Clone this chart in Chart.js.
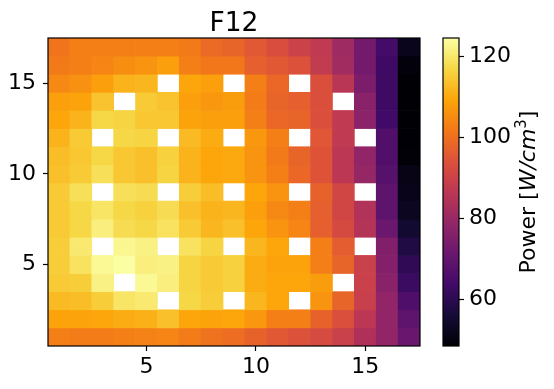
<!DOCTYPE html>
<html>
<head>
<meta charset="utf-8">
<script src="https://cdn.jsdelivr.net/npm/chart.js@4.4.1/dist/chart.umd.min.js"></script>
<style>
  html, body { margin:0; padding:0; background:#fff; }
  #wrap { position:relative; width:554px; height:389px; }
  #heat { position:absolute; left:0; top:0; }
  #cbar { position:absolute; left:430px; top:0; }
</style>
</head>
<body>
<div id="wrap">
  <canvas id="heat" width="468" height="389"></canvas>
  <canvas id="cbar" width="124" height="389"></canvas>
</div>
<script>
// grid positions (1..17 in both directions)
const cols = [1,2,3,4,5,6,7,8,9,10,11,12,13,14,15,16,17];
const rowsY = [1,2,3,4,5,6,7,8,9,10,11,12,13,14,15,16,17];

// power values [W/cm^3], one array per row, bottom row (y=1) first; null = no data (white)
const power = [
  [103,102.5,102.5,103,103.5,104,102.5,100.5,99.5,97.5,95.5,94,92.5,89.5,84,78.5,71],
  [109,109,109.5,110.5,111,113.5,109.5,109,109.5,107,103,103,97.5,93.5,86.5,78.5,69],
  [112.5,113,115.5,119.5,120.5,null,117,115.5,null,112,109.5,null,106.5,98,89,78.5,66],
  [115,115.5,122,null,123.5,121.5,116.5,115,116,110.5,109.5,109.5,108,null,89.5,77,62.5],
  [115.5,119,123.5,124.5,121.5,122,116.5,115,116,110.5,109,109,103,98,89.5,76,60.5],
  [115.5,120.5,null,123,122,null,119,116.5,null,112,109.5,null,103,96.5,null,75.5,58],
  [115,117,121.5,118,117,119,115,112,113.5,109.5,106.5,104,97,92,85,71.5,55],
  [115,117,119.5,117,116,118,113.5,111.5,112,108.5,104.5,103,97,91,84.5,69,52.5],
  [115,118.5,null,118.5,118,null,115.5,113,null,109.5,106.5,null,97.5,91,null,69,51.5],
  [113.5,115,118.5,114.5,113.5,116.5,111.5,109.5,110,106.5,103,98.5,94.5,86.5,79.5,67.5,51],
  [113,114.5,117,114.5,113.5,116,111.5,109.5,110,106.5,102,98,94.5,86.5,78.5,66.5,49],
  [111.5,115,null,117,116.5,null,112.5,110.5,null,107,103,null,95,87.5,null,66.5,48.7],
  [109.5,111.5,117,116.5,114.5,114.5,109,108.5,108.5,103,98.5,98,93.5,87.5,77.5,63.6,48.5],
  [108.5,109,114,null,115,114,108.5,107,108,102.5,98,97,93.5,null,77,63,48.5],
  [104.5,106,108.5,111.5,112,null,109.5,108.5,null,103,98.5,null,93.5,86,74.5,63,48.5],
  [102,103,104,105.5,106.5,108.5,103,101.5,101.5,97,95.5,94,88,81.5,73,63,49.5],
  [101,103,103,103,103,103,102,99,98,95.5,93,90,87.5,81,73,64,52]
];

const xTicks = [5,10,15];
const yTicks = [5,10,15];
const cbarTicks = [60,80,100,120];
const vmin = 48.4, vmax = 124.6;
const titleText = 'F12';

const FONT = "'DejaVu Sans', sans-serif";
const TICK_SIZE = 22;

// inferno colormap, sampled at 11 evenly spaced points
const INFERNO = ['#000004','#160b39','#420a68','#6a176e','#932667','#bc3754',
                 '#dd513a','#f37819','#fca50a','#f6d746','#fcffa4'];

function hexToRgb(h) {
  return [parseInt(h.slice(1,3),16), parseInt(h.slice(3,5),16), parseInt(h.slice(5,7),16)];
}

function inferno(t) {
  t = Math.max(0, Math.min(1, t));
  const pos = t * (INFERNO.length - 1);
  const i = Math.min(Math.floor(pos), INFERNO.length - 2);
  const f = pos - i;
  const a = hexToRgb(INFERNO[i]), b = hexToRgb(INFERNO[i+1]);
  const c = a.map((v,k)=>Math.round(v + (b[k]-v)*f));
  return `rgb(${c[0]},${c[1]},${c[2]})`;
}

function colorFor(v) { return inferno((v - vmin) / (vmax - vmin)); }

// black box around the plot area (matplotlib spines)
const framePlugin = {
  id: 'frame',
  afterDatasetsDraw(chart) {
    const a = chart.chartArea, c = chart.ctx;
    c.save();
    c.strokeStyle = '#000';
    c.lineWidth = 1.2;
    c.strokeRect(a.left, a.top, a.right - a.left, a.bottom - a.top);
    c.restore();
  }
};

// title centred over the plot area, like matplotlib's axes title
const titlePlugin = {
  id: 'axTitle',
  afterDraw(chart) {
    const a = chart.chartArea, c = chart.ctx;
    c.save();
    c.font = `26.5px ${FONT}`;
    c.fillStyle = '#000';
    c.textAlign = 'center';
    c.textBaseline = 'alphabetic';
    c.fillText(titleText, (a.left + a.right) / 2, 30.5);
    c.restore();
  }
};

function tickAxis(ticksList, fitFn, extra, pad) {
  return Object.assign({
    type: 'linear',
    offset: false,
    afterBuildTicks: s => { s.ticks = ticksList.map(v => ({ value: v })); },
    afterFit: fitFn,
    border: { display: false },
    grid: { display: true, drawOnChartArea: false, drawTicks: true, offset: false,
            tickLength: 5, tickColor: '#000', tickWidth: 1.2 },
    ticks: { color: '#000', font: { family: FONT, size: TICK_SIZE }, padding: pad,
             maxRotation: 0, autoSkip: false }
  }, extra);
}

function initHeatmap() {
  const cells = [], colors = [];
  power.forEach((row, ri) => {
    row.forEach((v, ci) => {
      if (v === null) return;
      cells.push({ x: cols[ci], y: [rowsY[ri] - 0.5, rowsY[ri] + 0.5] });
      colors.push(colorFor(v));
    });
  });

  new Chart(document.getElementById('heat'), {
    type: 'bar',
    data: {
      datasets: [{
        data: cells,
        backgroundColor: colors,
        borderWidth: 0,
        barPercentage: 1,
        categoryPercentage: 1
      }]
    },
    options: {
      responsive: false,
      animation: false,
      layout: { padding: { top: 38, right: 48 } },
      plugins: { legend: { display: false }, tooltip: { enabled: false } },
      scales: {
        x: tickAxis(xTicks, s => { s.height = 43; }, { min: 0.5, max: 17.5 }, 3),
        y: tickAxis(yTicks, s => { s.width = 48; }, { min: 0.5, max: 17.5 }, 7)
      }
    },
    plugins: [framePlugin, titlePlugin]
  });
}

// rotated colorbar label with italic units and superscript
const cbarLabelPlugin = {
  id: 'cbarLabel',
  afterDraw(chart) {
    const c = chart.ctx;
    const a = chart.chartArea;
    const parts = [
      { t: 'Power [', f: `${TICK_SIZE}px ${FONT}`, dy: 0 },
      { t: 'W/cm', f: `italic ${TICK_SIZE}px ${FONT}`, dy: 0 },
      { t: '3', f: `15px ${FONT}`, dy: -6.5 },
      { t: ']', f: `${TICK_SIZE}px ${FONT}`, dy: 0 }
    ];
    let total = 0;
    parts.forEach(p => { c.font = p.f; p.w = c.measureText(p.t).width; total += p.w; });
    c.save();
    c.translate(99, (a.top + a.bottom) / 2);
    c.rotate(-Math.PI / 2);
    c.fillStyle = '#000';
    c.textBaseline = 'middle';
    let x = -total / 2;
    parts.forEach(p => { c.font = p.f; c.fillText(p.t, x, p.dy); x += p.w; });
    c.restore();
  }
};

function initColorbar() {
  new Chart(document.getElementById('cbar'), {
    type: 'bar',
    data: {
      labels: [''],
      datasets: [{
        data: [[vmin, vmax]],
        borderWidth: 0,
        barPercentage: 1,
        categoryPercentage: 1,
        backgroundColor: (ctx) => {
          const ch = ctx.chart;
          if (!ch.chartArea) return '#000';
          const y = ch.scales.y;
          const g = ch.ctx.createLinearGradient(0, y.getPixelForValue(vmin), 0, y.getPixelForValue(vmax));
          INFERNO.forEach((col, i) => g.addColorStop(i / (INFERNO.length - 1), col));
          return g;
        }
      }]
    },
    options: {
      responsive: false,
      animation: false,
      layout: { padding: { left: 13, top: 38, bottom: 43 } },
      plugins: { legend: { display: false }, tooltip: { enabled: false } },
      scales: {
        x: { display: false },
        y: tickAxis(cbarTicks, s => { s.width = 95; }, { position: 'right', min: vmin, max: vmax }, 5)
      }
    },
    plugins: [framePlugin, cbarLabelPlugin]
  });
}

window.addEventListener('DOMContentLoaded', () => { initHeatmap(); initColorbar(); });
</script>
</body>
</html>
